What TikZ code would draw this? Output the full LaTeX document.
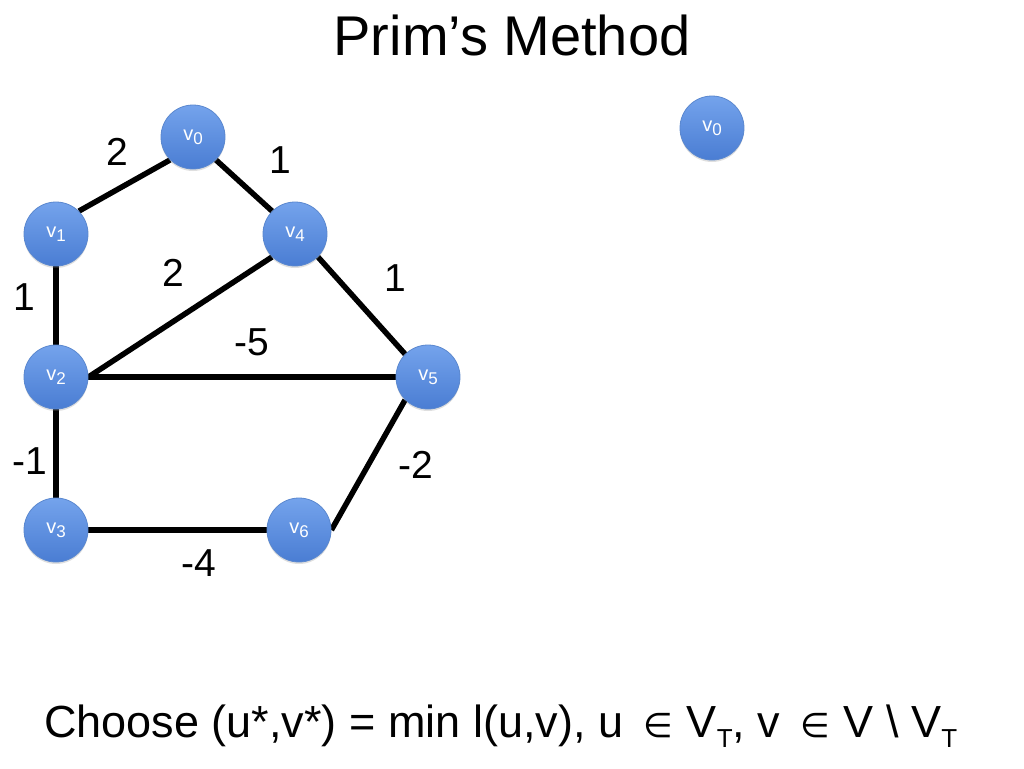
\documentclass[tikz,border=0pt]{standalone}
\usepackage{fontspec}
\setmainfont{Liberation Sans}
\newfontfamily\symfont{DejaVu Sans}
\usetikzlibrary{shadows}
\pgfdeclarelayer{background}
\pgfsetlayers{background,main}
\definecolor{nodetop}{HTML}{74A3EC}
\definecolor{nodebot}{HTML}{4A7DD3}
\definecolor{nodeline}{HTML}{5B88CF}
\tikzset{
  vert/.style={circle, minimum size=64pt, inner sep=0pt, top color=nodetop,
    bottom color=nodebot, draw=nodeline, line width=0.8pt, text=white,
    font=\fontsize{20}{20}\selectfont,
    drop shadow={opacity=0.25, shadow xshift=0pt, shadow yshift=-2pt}},
  link/.style={line width=5.5pt, draw=black},
  wt/.style={font=\fontsize{39}{39}\selectfont, inner sep=0pt},
}
\newcommand{\vsub}[1]{\raisebox{-3pt}{v\raisebox{-4pt}{\fontsize{17}{17}\selectfont #1}}}
\newcommand{\tsub}{\raisebox{-10pt}{\fontsize{26}{26}\selectfont T}}
\newcommand{\elem}{\hspace{20pt}{\symfont\fontsize{34}{34}\selectfont ∈}\hspace{14pt}}
\begin{document}
\begin{tikzpicture}[x=1pt,y=-1pt]
\useasboundingbox (0,0) rectangle (1024,768);

\node[font=\fontsize{56}{56}\selectfont, anchor=base, inner sep=0pt] (title) at (512,56) {Prim’s Method};

\node[vert] (v0) at (193,137) {\vsub{0}};
\node[vert] (v1) at (56,234) {\vsub{1}};
\node[vert] (v4) at (295,234) {\vsub{4}};
\node[vert] (v2) at (56,377) {\vsub{2}};
\node[vert] (v5) at (428,377) {\vsub{5}};
\node[vert] (v3) at (56,530) {\vsub{3}};
\node[vert] (v6) at (299,530) {\vsub{6}};
\node[vert] (w0) at (712,128) {\vsub{0}};

\begin{pgfonlayer}{background}
\fill[white] (0,0) rectangle (1024,768);
\draw[link] (v1.north east) -- (v0.south west);
\draw[link] (v0.south east) -- (v4.north west);
\draw[link] (v1.south) -- (v2.north);
\draw[link] (v2.east) -- (v4.south west);
\draw[link] (v4.south east) -- (v5.north west);
\draw[link] (v2.east) -- (v5.west);
\draw[link] (v2.south) -- (v3.north);
\draw[link] (v3.east) -- (v6.west);
\draw[link] (v5.south west) -- (v6.east);
\end{pgfonlayer}

\node[wt] (l01) at (117,152) {2};
\node[wt] (l04) at (280,160) {1};
\node[wt] (l12) at (24,297) {1};
\node[wt] (l24) at (173,273) {2};
\node[wt] (l45) at (395,278) {1};
\node[wt] (l25) at (252,342) {-5};
\node[wt] (l23) at (30,461) {-1};
\node[wt] (l56) at (416,465) {-2};
\node[wt] (l36) at (199,563) {-4};

\node[anchor=base west, inner sep=0pt, font=\fontsize{45}{45}\selectfont] (formula) at (44,737)
  {Choose (u*,v*) = min l(u,v), u\elem V\tsub, v\elem V \textbackslash\ V\tsub};
\end{tikzpicture}
\end{document}
